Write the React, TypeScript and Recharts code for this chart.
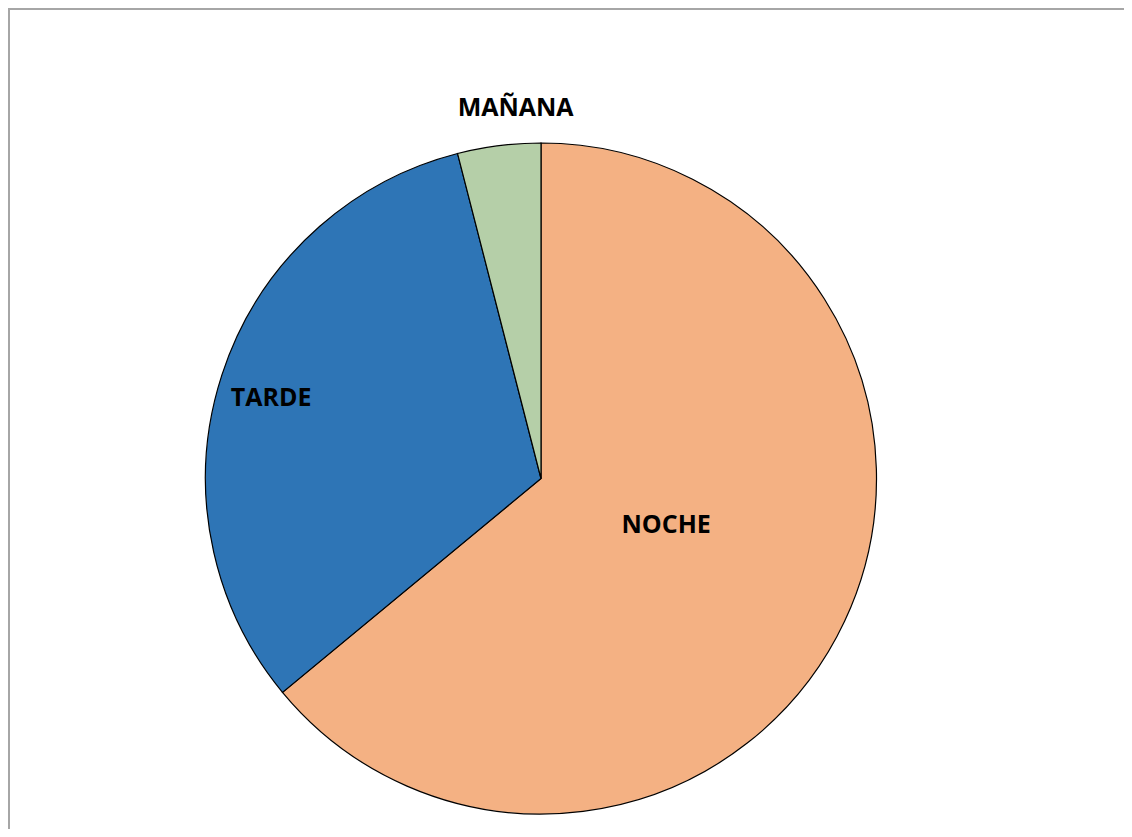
import { Cell, Pie, PieChart } from "recharts";

// turnos y su peso (%)
const turnos = ["NOCHE", "TARDE", "MAÑANA"];
const valores = [64, 32, 4];
const colores = ["#F4B183", "#2E75B6", "#B5CFA8"];

// dónde cae cada etiqueta: fracción del radio y pequeño giro (grados)
const etiquetaRadio: Record<string, number> = { NOCHE: 0.397, TARDE: 0.84, "MAÑANA": 1.111 };
const etiquetaGiro: Record<string, number> = { NOCHE: 5.2, TARDE: 1.2, "MAÑANA": -3.3 };

const data = turnos.map((t, i) => ({ name: t, value: valores[i] }));

const RAD = Math.PI / 180;
const FONT = 25;

function Etiqueta(props: any) {
  const { cx, cy, midAngle, outerRadius, name } = props;
  const r = outerRadius * (etiquetaRadio[name] ?? 0.6);
  const a = (midAngle + (etiquetaGiro[name] ?? 0)) * RAD;
  const x = cx + r * Math.cos(-a);
  const y = cy + r * Math.sin(-a);
  return (
    <text
      x={x}
      y={y + FONT * 0.357}
      textAnchor="middle"
      fill="#000"
      fontFamily="'Open Sans', sans-serif"
      fontWeight={700}
      fontSize={FONT}
    >
      {name}
    </text>
  );
}

export default function App() {
  // el marco llega al borde derecho de la ventana; alto sin provocar scroll
  return (
    <div
      style={{
        width: 1122,
        height: 819,
        overflow: "hidden",
        borderTop: "2px solid #a6a6a6",
        borderLeft: "2px solid #a6a6a6",
        background: "#fff",
      }}
    >
      <PieChart width={1122} height={819} margin={{ top: 0, right: 0, bottom: 0, left: 0 }}>
        <Pie
          data={data}
          dataKey="value"
          nameKey="name"
          cx={531}
          cy={468.5}
          outerRadius={335.5}
          startAngle={90}
          endAngle={-270}
          stroke="#000"
          strokeWidth={1.2}
          label={Etiqueta}
          labelLine={false}
          isAnimationActive={false}
        >
          {data.map((d, i) => (
            <Cell key={d.name} fill={colores[i]} />
          ))}
        </Pie>
      </PieChart>
    </div>
  );
}
